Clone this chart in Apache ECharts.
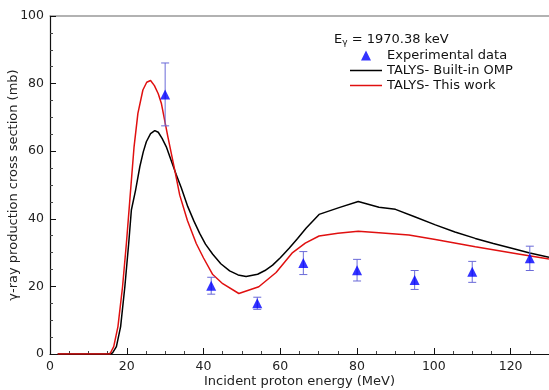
<!DOCTYPE html>
<html>
<head>
<meta charset="utf-8">
<script src="https://cdn.jsdelivr.net/npm/echarts@6/dist/echarts.min.js"></script>
<style>
  html, body { margin: 0; padding: 0; background: #fff; }
  #chart { width: 549px; height: 390px; }
</style>
</head>
<body>
<div id="chart"></div>
<script>
// experimental points
const expX = [30, 42, 54, 66, 80, 95, 110, 125]
const expY = [76.8, 20.2, 15.0, 26.9, 24.8, 21.9, 24.3, 28.3]
const expErr = [9.3, 2.5, 1.8, 3.4, 3.2, 2.8, 3.1, 3.6]

// TALYS built-in OMP
const ompX = [2, 15, 16.3, 17.3, 18.4, 19.5, 20.5, 21.2, 22.3, 23.4, 24.3, 25.1, 26.2, 27.3, 28.2, 29.2, 30.3, 31.5, 32.9, 34.2, 35.9, 37.5, 39, 40.5, 42.4, 44.5, 46.8, 49, 51.1, 54.1, 56, 58, 60, 62.3, 64.5, 66.7, 70.1, 75.3, 80.3, 85.7, 90, 95, 100.4, 105.5, 110.8, 115.5, 120.3, 125, 130]
const ompY = [0, 0, 0.3, 2.2, 8.1, 19.9, 32.7, 42.6, 48.5, 55.4, 59.8, 62.8, 65.2, 66.1, 65.6, 63.8, 61.3, 57.5, 53, 49.2, 43.6, 39.3, 35.7, 32.5, 29.5, 26.7, 24.6, 23.4, 22.9, 23.6, 24.7, 26.3, 28.5, 31.3, 34.2, 37.2, 41.3, 43.3, 45.1, 43.4, 42.8, 40.6, 38.2, 36.1, 34.2, 32.7, 31.3, 29.9, 28.6]

// TALYS this work
const thisX = [2, 15.6, 16.6, 17.7, 18.9, 19.9, 20.8, 21.9, 22.9, 24.2, 25.2, 26.2, 27.2, 28.2, 29, 30.7, 32.5, 33.8, 35.8, 38.1, 40, 42.4, 45, 49.2, 54.4, 58.9, 63.2, 66.5, 70.1, 75, 80.3, 85.7, 93.5, 100.4, 110.8, 122, 130]
const thisY = [0, 0, 2.2, 8.1, 19.9, 32.7, 45.6, 61.3, 71.2, 78.1, 80.4, 80.9, 79.4, 77, 74.2, 64.3, 54.4, 47, 39.5, 32.7, 28.4, 23.5, 20.8, 17.9, 19.9, 24.1, 30, 32.8, 34.9, 35.7, 36.3, 35.9, 35.2, 33.9, 31.7, 29.6, 28.1]

const zip = (a, b) => a.map((v, i) => [v, b[i]])
const errData = expX.map((x, i) => [x, expY[i] - expErr[i], expY[i] + expErr[i]])

const FONT = 'DejaVu Sans'
const lineIcon = 'path://M0,0 L32,0 L32,1.5 L0,1.5 Z'
const chart = echarts.init(document.getElementById('chart'))

chart.setOption({
  animation: false,
  textStyle: { fontFamily: FONT },
  grid: { left: 50, right: 0, top: 16, bottom: 36, outerBoundsMode: 'none', containLabel: false },
  legend: {
    orient: 'vertical',
    left: 345,
    top: 44,
    itemWidth: 32,
    itemHeight: 10,
    itemGap: 2,
    textStyle: { fontFamily: FONT, fontSize: 13, color: '#111' },
    data: [
      { name: 'Experimental data', icon: 'path://M4,0 L8,8 L0,8 Z', itemStyle: { color: '#0000ff' } },
      { name: 'TALYS- Built-in OMP', icon: lineIcon, itemStyle: { color: '#000' } },
      { name: 'TALYS- This work', icon: lineIcon, itemStyle: { color: '#e01010' } }
    ]
  },
  graphic: [{
    type: 'text',
    left: 334,
    top: 33,
    style: {
      text: '{m|E}{s|γ}{m| = 1970.38 keV}',
      rich: {
        m: { fontFamily: FONT, fontSize: 13, fill: '#111' },
        s: { fontFamily: FONT, fontSize: 9, fill: '#111', padding: [6, 0, 0, 0] }
      }
    }
  }],
  xAxis: [{
    type: 'value',
    min: 0,
    max: 130,
    interval: 20,
    name: 'Incident proton energy (MeV)',
    nameLocation: 'middle',
    nameGap: 21,
    nameMoveOverlap: false,
    nameTextStyle: { fontFamily: FONT, fontSize: 13, color: '#222' },
    axisLine: { lineStyle: { color: '#111', width: 1.2 } },
    axisTick: { inside: true, length: 6, lineStyle: { color: '#111' } },
    minorTick: { show: true, splitNumber: 4, length: 3, lineStyle: { color: '#444' } },
    axisLabel: { fontFamily: FONT, fontSize: 12.5, color: '#222', margin: 6, showMaxLabel: false },
    splitLine: { show: false }
  }, {
    type: 'value',
    position: 'top',
    min: 0,
    max: 130,
    axisLine: { show: true, lineStyle: { color: '#999', width: 1.5 } },
    axisTick: { show: false },
    axisLabel: { show: false },
    splitLine: { show: false }
  }],
  yAxis: {
    type: 'value',
    min: 0,
    max: 100,
    interval: 20,
    name: 'γ-ray production cross section (mb)',
    nameLocation: 'middle',
    nameGap: 30,
    nameMoveOverlap: false,
    nameTextStyle: { fontFamily: FONT, fontSize: 13, color: '#222' },
    axisLine: { show: true, lineStyle: { color: '#111', width: 1.2 } },
    axisTick: { inside: true, length: 6, lineStyle: { color: '#111' } },
    minorTick: { show: true, splitNumber: 4, length: 3, lineStyle: { color: '#444' } },
    axisLabel: { fontFamily: FONT, fontSize: 12.5, color: '#222', margin: 6 },
    splitLine: { show: false }
  },
  series: [
    {
      name: 'TALYS- Built-in OMP',
      type: 'line',
      data: zip(ompX, ompY),
      symbol: 'none',
      color: '#000',
      lineStyle: { color: '#000', width: 1.5 },
      z: 3
    },
    {
      name: 'TALYS- This work',
      type: 'line',
      data: zip(thisX, thisY),
      symbol: 'none',
      color: '#e01010',
      lineStyle: { color: '#e01010', width: 1.5 },
      z: 3
    },
    {
      name: 'errorbars',
      type: 'custom',
      data: errData,
      z: 4,
      renderItem: function (params, api) {
        const x = api.value(0)
        const lo = api.coord([x, api.value(1)])
        const hi = api.coord([x, api.value(2)])
        const w = 4
        const st = { stroke: '#6a6ad8', lineWidth: 1 }
        return {
          type: 'group',
          children: [
            { type: 'line', shape: { x1: lo[0], y1: lo[1], x2: hi[0], y2: hi[1] }, style: st },
            { type: 'line', shape: { x1: lo[0] - w, y1: lo[1], x2: lo[0] + w, y2: lo[1] }, style: st },
            { type: 'line', shape: { x1: hi[0] - w, y1: hi[1], x2: hi[0] + w, y2: hi[1] }, style: st }
          ]
        }
      }
    },
    {
      name: 'Experimental data',
      type: 'scatter',
      data: zip(expX, expY),
      symbol: 'triangle',
      symbolSize: 10,
      color: '#0000ff',
      itemStyle: { color: '#0000ff' },
      z: 5
    }
  ]
})
</script>
</body>
</html>
